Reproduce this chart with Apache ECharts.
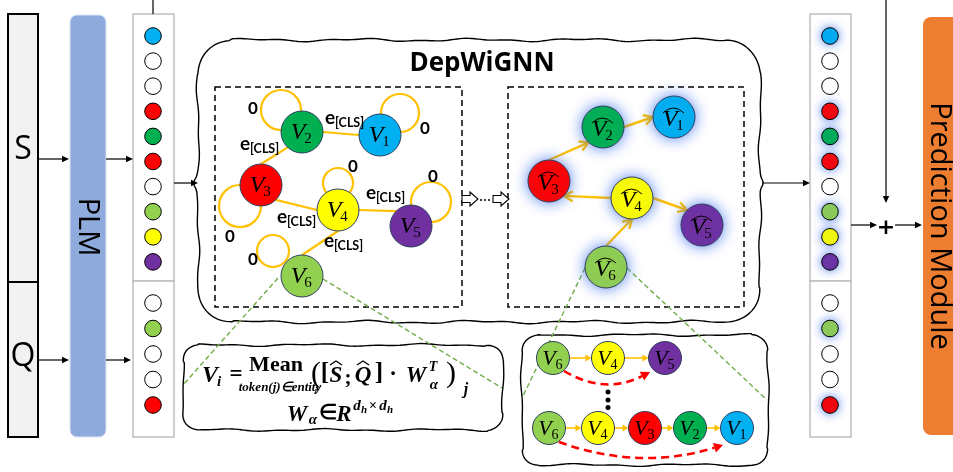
<!DOCTYPE html>
<html><head><meta charset="utf-8">
<script src="https://cdn.jsdelivr.net/npm/echarts@6/dist/echarts.min.js"></script>
<style>html,body{margin:0;padding:0;background:#fff}#c{width:953px;height:472px}</style>
</head><body><div id="c"></div>
<script>
// ---------------- data ----------------
const sTokenColors = ['#00b0f0','#ffffff','#ffffff','#ff0000','#00b050','#ff0000','#ffffff','#92d050','#ffff00','#7030a0'];
const qTokenColors = ['#ffffff','#92d050','#ffffff','#ffffff','#ff0000'];
const nodeIndex = ['1','2','3','4','5','6'];
const nodeColors = ['#00b0f0','#00b050','#ff0000','#ffff00','#7030a0','#92d050'];
const inputNodeXY = [[380,135],[302,132],[261,185],[338,210],[411,226],[302,276]];
const outputNodeXY = [[674,117],[603,127],[549,181],[632,198],[702,225],[606,267]];
// edges: [from, to, attach angle on from, attach angle on to]
const inputEdges = [[2,1,0,180],[2,3,133,-90],[3,4,45,180],[4,5,0,225],[4,6,90,-90]];
const inputEdgeLabelXY = [[330,118],[245,144],[282,217],[371,193],[329,241]];
const selfLoopXYR = [[400,113,19],[281,110,20],[240,206,21],[338,183,15],[431,202,20],[273,251,16]];
const zeroLabelXY = [[425,129],[253,109],[230,237],[353,167],[433,177],[253,260]];
const outputEdges = [[3,2,-90,133],[2,1,0,180],[4,3,180,45],[4,5,0,225],[6,4,-90,90]];
const pathShort = [6,4,5];
const pathLong = [6,4,3,2,1];
const pathShortXY = [[553,358],[608,358],[665,358]];
const pathLongXY = [[549,428],[598,428],[645,428],[690,428],[737,428]];

// ---------------- helpers ----------------
const ORANGE = '#ffc000';
const GLOW = 'rgba(60,110,235,0.85)';
function head(p1, p2, len, hw){
  const a = Math.atan2(p2[1]-p1[1], p2[0]-p1[0]);
  const bx = p2[0]-len*Math.cos(a), by = p2[1]-len*Math.sin(a);
  return {a, base:[bx,by], l:[bx+hw*Math.sin(a), by-hw*Math.cos(a)], r:[bx-hw*Math.sin(a), by+hw*Math.cos(a)]};
}
function arrow(c, x1,y1,x2,y2,o){
  o = o||{};
  const p1=c(x1,y1), p2=c(x2,y2);
  const col=o.color||'#000', lw=o.lw||1.2, len=o.len||7, hw=o.hw||3.5;
  const h=head(p1,p2,len,hw);
  const els=[];
  if(o.open){
    els.push({type:'line',shape:{x1:p1[0],y1:p1[1],x2:p2[0],y2:p2[1]},style:{stroke:col,lineWidth:lw}});
    els.push({type:'polyline',shape:{points:[h.l,p2,h.r]},style:{stroke:col,lineWidth:lw,fill:'none',lineJoin:'miter'}});
  } else {
    els.push({type:'line',shape:{x1:p1[0],y1:p1[1],x2:h.base[0]+Math.cos(h.a),y2:h.base[1]+Math.sin(h.a)},style:{stroke:col,lineWidth:lw,lineDash:o.dash||null}});
    els.push({type:'polygon',shape:{points:[p2,h.l,h.r]},style:{fill:col}});
  }
  return els;
}
function txt(c,x,y,text,font,o){
  o=o||{};
  const p=c(x,y);
  return {type:'text',x:p[0],y:p[1],rotation:o.rot||0,style:{text:text,font:font,fill:o.fill||'#000',
    textAlign:o.align||'center',textVerticalAlign:'middle',align:o.align||'center',verticalAlign:'middle'}};
}
function wobbly(c,x1,y1,x2,y2,r,amp,ph,braceY){
  const pts=[]; let s=0;
  function add(x,y,nx,ny){
    s+=1;
    let w = amp*(Math.sin(s*0.17+ph)+0.6*Math.sin(s*0.41+ph*1.7));
    if(braceY!=null && nx!==0 && ny===0){ w += 3*Math.exp(-Math.pow((y-braceY)/5,2)); }
    pts.push(c(x+nx*w, y+ny*w));
  }
  const st=3;
  for(let x=x1+r;x<x2-r;x+=st) add(x,y1,0,-1);
  for(let t=-90;t<0;t+=5){const a=t*Math.PI/180; add(x2-r+r*Math.cos(a), y1+r+r*Math.sin(a), Math.cos(a)*0.3, Math.sin(a)*0.3);}
  for(let y=y1+r;y<y2-r;y+=st) add(x2,y,1,0);
  for(let t=0;t<90;t+=5){const a=t*Math.PI/180; add(x2-r+r*Math.cos(a), y2-r+r*Math.sin(a), Math.cos(a)*0.3, Math.sin(a)*0.3);}
  for(let x=x2-r;x>x1+r;x-=st) add(x,y2,0,1);
  for(let t=90;t<180;t+=5){const a=t*Math.PI/180; add(x1+r+r*Math.cos(a), y2-r+r*Math.sin(a), Math.cos(a)*0.3, Math.sin(a)*0.3);}
  for(let y=y2-r;y>y1+r;y-=st) add(x1,y,-1,0);
  for(let t=180;t<270;t+=5){const a=t*Math.PI/180; add(x1+r+r*Math.cos(a), y1+r+r*Math.sin(a), Math.cos(a)*0.3, Math.sin(a)*0.3);}
  return {type:'polygon',shape:{points:pts},style:{fill:'none',stroke:'#000',lineWidth:1.4}};
}
function rect(c,x,y,w,h,style,r){
  const p=c(x,y), q=c(x+w,y+h);
  return {type:'rect',shape:{x:p[0],y:p[1],width:q[0]-p[0],height:q[1]-p[1],r:r||0},style:style};
}
function attach(xy, r, ang){
  const a=ang*Math.PI/180; return [xy[0]+r*Math.cos(a), xy[1]+r*Math.sin(a)];
}
function nodeEls(c, xy, r, idx, o){
  o=o||{};
  const p=c(xy[0],xy[1]);
  const els=[{type:'circle',shape:{cx:p[0],cy:p[1],r:r},style:{fill:nodeColors[idx],stroke:'#2f3f60',lineWidth:1,
    shadowBlur:o.glow?14:0,shadowColor:o.glow?GLOW:'rgba(0,0,0,0)'}}];
  const fs=o.fs||24, dy=o.hat?3:1;
  els.push(txt(c,xy[0]-4,xy[1]+dy,'V','italic '+fs+'px "Liberation Serif"'));
  els.push(txt(c,xy[0]+6,xy[1]+dy+6,nodeIndex[idx],Math.round(fs*0.62)+'px "Liberation Serif"'));
  if(o.hat){
    const a=c(xy[0]-11,xy[1]-4), b=c(xy[0]+10,xy[1]-4), m=c(xy[0]-1,xy[1]-14);
    els.push({type:'bezierCurve',shape:{x1:a[0],y1:a[1],x2:b[0],y2:b[1],cpx1:m[0],cpy1:m[1]},style:{stroke:'#000',lineWidth:1,fill:'none'}});
  }
  return els;
}

// ---------------- render ----------------
function renderFrame(params, api){
  const c=(x,y)=>api.coord([x,y]);
  const ch=[];
  ch.push(rect(c,8,14,30,268,{fill:'#f2f2f2',stroke:'#000',lineWidth:2}));
  ch.push(rect(c,8,282,30,155,{fill:'#f2f2f2',stroke:'#000',lineWidth:2}));
  ch.push(txt(c,23,150,'S','32px "Open Sans"'));
  ch.push(txt(c,23,357,'Q','32px "Open Sans"'));
  ch.push(rect(c,70,15,36,422,{fill:'#8faadc',stroke:'#dae3f3',lineWidth:1},7));
  ch.push(txt(c,87,227,'PLM','29px "Open Sans"',{rot:-Math.PI/2}));
  ch.push(rect(c,133,14,41,267,{fill:'#fff',stroke:'#bfbfbf',lineWidth:1.5}));
  ch.push(rect(c,133,281,41,156,{fill:'#fff',stroke:'#bfbfbf',lineWidth:1.5}));
  ch.push(rect(c,810,14,41,267,{fill:'#fff',stroke:'#bfbfbf',lineWidth:1.5}));
  ch.push(rect(c,810,281,41,156,{fill:'#fff',stroke:'#bfbfbf',lineWidth:1.5}));
  ch.push(rect(c,923,17,45,418,{fill:'#ed7d31'},8));
  ch.push(txt(c,939,226,'Prediction Module','29px "Open Sans"',{rot:-Math.PI/2}));
  [[38,159,69,159],[106,159,133,159],[38,360,69,360],[106,360,131,360],[174,183,198,183],
   [762,183,810,183],[886,0,886,203],[851,225,877,225],[895,225,922,225]].forEach(a=>{
     ch.push(...arrow(c,a[0],a[1],a[2],a[3],{lw:1.2,len:7,hw:3.2}));
   });
  {const a=c(153,0),b=c(153,14); ch.push({type:'line',shape:{x1:a[0],y1:a[1],x2:b[0],y2:b[1]},style:{stroke:'#000',lineWidth:1.2}});}
  ch.push(txt(c,886,228,'+','bold 22px "DejaVu Sans"'));
  ch.push(wobbly(c,198,40,760,322,34,1.1,0.4,183));
  ch.push(txt(c,482,64,'DepWiGNN','bold 26px "Open Sans"'));
  ch.push(rect(c,215,87,247,220,{fill:'none',stroke:'#000',lineWidth:1.5,lineDash:[6,4]}));
  ch.push(rect(c,508,87,236,220,{fill:'none',stroke:'#000',lineWidth:1.5,lineDash:[6,4]}));
  [462,493].forEach(x0=>{
    const pts=[[x0,195.5],[x0+8,195.5],[x0+8,192],[x0+16,199],[x0+8,206],[x0+8,202.5],[x0,202.5]].map(p=>c(p[0],p[1]));
    ch.push({type:'polygon',shape:{points:pts},style:{fill:'#fff',stroke:'#000',lineWidth:1.1}});
  });
  [481,485,489].forEach(x=>{const p=c(x,200); ch.push({type:'circle',shape:{cx:p[0],cy:p[1],r:1},style:{fill:'#000'}});});
  ch.push(wobbly(c,183,345,503,430,16,0.9,1.3,null));
  ch.push(wobbly(c,522,335,768,465,16,0.9,2.1,null));
  [[278,278,183,385],[323,279,502,388],[585,268,522,398],[627,268,767,400]].forEach(l=>{
    const a=c(l[0],l[1]),b=c(l[2],l[3]);
    ch.push({type:'line',shape:{x1:a[0],y1:a[1],x2:b[0],y2:b[1]},style:{stroke:'#70ad47',lineWidth:1.4,lineDash:[5,3]}});
  });
  const BI='bold italic ', SF='px "Liberation Serif"';
  const f=[
    [210,376,'V',BI+'24'+SF],[219,382,'i',BI+'15'+SF],[236,375,'=','bold 23'+SF],
    [276,365,'Mean','bold 22'+SF],[280,388,'token(j)∈entity',BI+'13'+SF],[316,391,'i',BI+'9'+SF],
    [316,374,'(','30'+SF],[325,374,'[','bold 25'+SF],[336,376,'S',BI+'23'+SF],[348,379,';','bold 21'+SF],
    [363,376,'Q',BI+'23'+SF],[379,374,']','bold 25'+SF],[393,375,'·','bold 23'+SF],[416,376,'W',BI+'23'+SF],
    [433,367,'T',BI+'14'+SF],[434,385,'α',BI+'15'+SF],[451,374,')','30'+SF],[466,390,'j',BI+'16'+SF],
    [297,415,'W',BI+'23'+SF],[313,420,'α',BI+'15'+SF],[328,414,'∈','bold 21'+SF],[344,415,'R',BI+'23'+SF],
    [357,406,'d',BI+'15'+SF],[364,410,'h',BI+'11'+SF],[373,406,'×','bold 14'+SF],[383,406,'d',BI+'15'+SF],[390,410,'h',BI+'11'+SF]
  ];
  f.forEach(t=>ch.push(txt(c,t[0],t[1],t[2],t[3])));
  [[336,363],[363,363]].forEach(h=>{
    const a=c(h[0]-6,h[1]+2),b=c(h[0]+6,h[1]+2),m=c(h[0],h[1]-2);
    ch.push({type:'polyline',shape:{points:[a,m,b]},style:{stroke:'#000',lineWidth:1.3,fill:'none'}});
  });
  return {type:'group',children:ch};
}

function renderTokens(params, api){
  const c=(x,y)=>api.coord([x,y]);
  const ch=[];
  [[153,false],[830,true]].forEach(col=>{
    sTokenColors.forEach((clr,i)=>{
      const p=c(col[0],36+i*25.1); const g=col[1]&&clr!=='#ffffff';
      ch.push({type:'circle',shape:{cx:p[0],cy:p[1],r:8.3},style:{fill:clr,stroke:'#000',lineWidth:1,shadowBlur:g?10:0,shadowColor:g?GLOW:'rgba(0,0,0,0)'}});
    });
    qTokenColors.forEach((clr,i)=>{
      const p=c(col[0],303+i*25.5); const g=col[1]&&clr!=='#ffffff';
      ch.push({type:'circle',shape:{cx:p[0],cy:p[1],r:8.3},style:{fill:clr,stroke:'#000',lineWidth:1,shadowBlur:g?10:0,shadowColor:g?GLOW:'rgba(0,0,0,0)'}});
    });
  });
  return {type:'group',children:ch};
}

function renderInputGraph(params, api){
  const c=(x,y)=>api.coord([x,y]);
  const ch=[]; const R=21;
  selfLoopXYR.forEach(l=>{const p=c(l[0],l[1]); ch.push({type:'circle',shape:{cx:p[0],cy:p[1],r:l[2]},style:{fill:'none',stroke:ORANGE,lineWidth:2.2}});});
  inputEdges.forEach(e=>{
    const a=attach(inputNodeXY[e[0]-1],R,e[2]), b=attach(inputNodeXY[e[1]-1],R,e[3]);
    const p=c(a[0],a[1]), q=c(b[0],b[1]);
    ch.push({type:'line',shape:{x1:p[0],y1:p[1],x2:q[0],y2:q[1]},style:{stroke:ORANGE,lineWidth:2.2}});
  });
  inputNodeXY.forEach((xy,i)=>ch.push(...nodeEls(c,xy,R,i,{fs:24})));
  inputEdgeLabelXY.forEach(p=>{
    ch.push(txt(c,p[0],p[1],'e','bold 19px Lato'));
    ch.push(txt(c,p[0]+5,p[1]+5,'[CLS]','bold 12.5px Lato',{align:'left'}));
  });
  zeroLabelXY.forEach(p=>ch.push(txt(c,p[0],p[1],'0','bold 17px Lato')));
  return {type:'group',children:ch};
}

function renderOutputGraph(params, api){
  const c=(x,y)=>api.coord([x,y]);
  const ch=[]; const R=21;
  outputEdges.forEach(e=>{
    const a=attach(outputNodeXY[e[0]-1],R,e[2]), b=attach(outputNodeXY[e[1]-1],R,e[3]);
    ch.push(...arrow(c,a[0],a[1],b[0],b[1],{color:ORANGE,lw:2.4,len:9,hw:5,open:true}));
  });
  outputNodeXY.forEach((xy,i)=>ch.push(...nodeEls(c,xy,R,i,{fs:24,hat:true,glow:true})));
  return {type:'group',children:ch};
}

function renderPaths(params, api){
  const c=(x,y)=>api.coord([x,y]);
  const ch=[]; const R=16.5;
  [[pathShort,pathShortXY],[pathLong,pathLongXY]].forEach(pp=>{
    const ids=pp[0], xy=pp[1];
    for(let i=0;i<ids.length-1;i++){
      ch.push(...arrow(c,xy[i][0]+R,xy[i][1],xy[i+1][0]-R,xy[i+1][1],{color:ORANGE,lw:1.6,len:6,hw:3.5}));
    }
    ids.forEach((id,i)=>ch.push(...nodeEls(c,xy[i],R,id-1,{fs:22})));
  });
  [[564,371,605,395,650,372],[559,442,640,471,723,445]].forEach(b=>{
    const s=c(b[0],b[1]), m=c(b[2],b[3]), e=c(b[4],b[5]);
    const h=head(m,e,9,5);
    ch.push({type:'bezierCurve',shape:{x1:s[0],y1:s[1],x2:h.base[0],y2:h.base[1],cpx1:m[0],cpy1:m[1]},style:{stroke:'#ff0000',lineWidth:2.6,lineDash:[8,5],fill:'none'}});
    ch.push({type:'polygon',shape:{points:[e,h.l,h.r]},style:{fill:'#ff0000'}});
  });
  [392,400,407.5].forEach(y=>{const p=c(608,y); ch.push({type:'circle',shape:{cx:p[0],cy:p[1],r:2.5},style:{fill:'#000'}});});
  return {type:'group',children:ch};
}

const chart = echarts.init(document.getElementById('c'));
const base = {type:'custom',coordinateSystem:'cartesian2d',silent:true,animation:false,data:[[0,0]],clip:false};
chart.setOption({
  animation:false,
  grid:{left:0,right:0,top:0,bottom:0},
  xAxis:{type:'value',min:0,max:953,show:false},
  yAxis:{type:'value',min:0,max:472,inverse:true,show:false},
  series:[
    Object.assign({},base,{z:1,renderItem:renderFrame}),
    Object.assign({},base,{z:2,renderItem:renderTokens}),
    Object.assign({},base,{z:3,renderItem:renderInputGraph}),
    Object.assign({},base,{z:3,renderItem:renderOutputGraph}),
    Object.assign({},base,{z:3,renderItem:renderPaths})
  ]
});
</script></body></html>
